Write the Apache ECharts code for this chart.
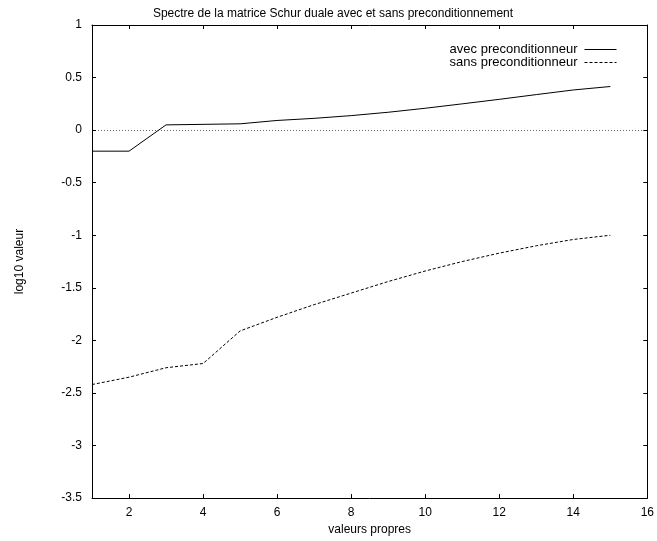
<!DOCTYPE html>
<html>
<head>
<meta charset="utf-8">
<script src="https://cdn.jsdelivr.net/npm/echarts@6/dist/echarts.min.js"></script>
<style>html,body{margin:0;padding:0;background:#fff}#c{width:657px;height:541px}</style>
</head>
<body>
<div id="c"></div>
<script>
const xValues = [1, 2, 3, 4, 5, 6, 7, 8, 9, 10, 11, 12, 13, 14, 15];
const avecValues = [-0.2, -0.2, 0.05, 0.055, 0.06, 0.092, 0.112, 0.138, 0.17, 0.208, 0.25, 0.293, 0.338, 0.382, 0.415];
const sansValues = [-2.42, -2.35, -2.26, -2.22, -1.91, -1.78, -1.66, -1.55, -1.44, -1.34, -1.25, -1.17, -1.10, -1.04, -1.0];
const xTicks = [2, 4, 6, 8, 10, 12, 14, 16];

const FONT = 'Liberation Sans';
const chart = echarts.init(document.getElementById('c'), null, {renderer: 'canvas'});
const pair = (xs, ys) => xs.map((x, i) => [x, ys[i]]);
const tickStyle = {show: true, inside: true, length: 4, lineStyle: {color: '#000', width: 1}};
chart.setOption({
  animation: false,
  backgroundColor: '#fff',
  textStyle: {fontFamily: FONT, color: '#000'},
  title: {
    text: 'Spectre de la matrice Schur duale avec et sans preconditionnement',
    left: 328, top: 3, textAlign: 'center',
    textStyle: {fontFamily: FONT, fontSize: 12, fontWeight: 'normal', color: '#000'}
  },
  legend: {
    orient: 'vertical', right: 35, top: 38, align: 'right',
    itemWidth: 32, itemHeight: 8, itemGap: 0,
    itemStyle: {opacity: 0},
    lineStyle: {width: 1},
    textStyle: {fontFamily: FONT, fontSize: 13, color: '#000', padding: [0, 2, 0, 0]},
    data: ['avec preconditionneur', 'sans preconditionneur']
  },
  grid: {left: 92, right: 7, top: 25, bottom: 42, containLabel: false},
  xAxis: [{
    type: 'value', min: 1, max: 16, position: 'bottom',
    axisLine: {show: true, onZero: false, lineStyle: {color: '#000', width: 1}},
    axisTick: Object.assign({customValues: xTicks}, tickStyle),
    axisLabel: {customValues: xTicks, fontFamily: FONT, fontSize: 12, color: '#000', margin: 9},
    splitLine: {show: false},
    name: 'valeurs propres', nameLocation: 'middle', nameGap: 24,
    nameTextStyle: {fontFamily: FONT, fontSize: 12, color: '#000'}
  }, {
    type: 'value', min: 1, max: 16, position: 'top',
    axisLine: {show: true, onZero: false, lineStyle: {color: '#000', width: 1}},
    axisTick: Object.assign({customValues: xTicks}, tickStyle),
    axisLabel: {show: false}, splitLine: {show: false}
  }],
  yAxis: [{
    type: 'value', min: -3.5, max: 1, interval: 0.5, position: 'left',
    axisLine: {show: true, onZero: false, lineStyle: {color: '#000', width: 1}},
    axisTick: tickStyle,
    axisLabel: {fontFamily: FONT, fontSize: 12, color: '#000', margin: 10},
    splitLine: {show: false},
    name: 'log10 valeur', nameLocation: 'middle', nameGap: 66, nameRotate: 90,
    nameTextStyle: {fontFamily: FONT, fontSize: 12, color: '#000'}
  }, {
    type: 'value', min: -3.5, max: 1, interval: 0.5, position: 'right',
    axisLine: {show: true, onZero: false, lineStyle: {color: '#000', width: 1}},
    axisTick: tickStyle,
    axisLabel: {show: false}, splitLine: {show: false}
  }],
  series: [{
    name: 'avec preconditionneur', type: 'line', data: pair(xValues, avecValues),
    showSymbol: false, symbol: 'none', color: '#000',
    lineStyle: {color: '#000', width: 1},
    markLine: {
      silent: true, symbol: 'none', label: {show: false},
      lineStyle: {color: '#000', width: 0.6, type: [1, 2]},
      data: [{yAxis: 0}]
    }
  }, {
    name: 'sans preconditionneur', type: 'line', data: pair(xValues, sansValues),
    showSymbol: false, symbol: 'none', color: '#000',
    lineStyle: {color: '#000', width: 1, type: [3, 2]}
  }]
});
</script>
</body>
</html>
